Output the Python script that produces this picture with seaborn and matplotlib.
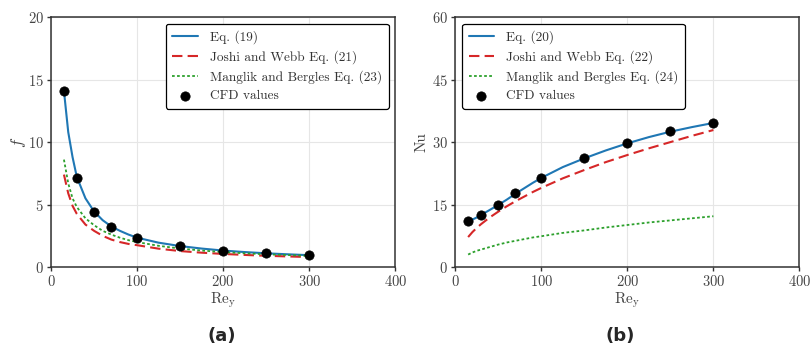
import matplotlib
matplotlib.use("Agg")
import matplotlib.pyplot as plt
import seaborn as sns
import pandas as pd

# Reynolds numbers of the correlation curves and the CFD runs
re_curve = [15, 20, 25, 30, 40, 50, 60, 70, 80, 90, 100, 125, 150, 175, 200, 225, 250, 275, 300]
re_cfd = [15, 30, 50, 70, 100, 150, 200, 250, 300]

# Friction factor
f_eq19 = [14.1, 10.8, 8.8, 7.2, 5.5, 4.45, 3.75, 3.25, 2.9, 2.6, 2.35, 1.95, 1.68, 1.48, 1.32, 1.2, 1.1, 1.02, 0.95]
f_joshi = [7.4, 5.9, 4.9, 4.25, 3.4, 2.9, 2.5, 2.2, 2.0, 1.85, 1.75, 1.47, 1.28, 1.15, 1.05, 0.97, 0.9, 0.85, 0.8]
f_manglik = [8.6, 6.7, 5.5, 4.8, 3.9, 3.35, 2.9, 2.6, 2.35, 2.15, 2.0, 1.7, 1.48, 1.32, 1.2, 1.1, 1.02, 0.96, 0.9]
f_cfd = [14.1, 7.15, 4.4, 3.2, 2.35, 1.65, 1.3, 1.1, 0.95]

# Nusselt number
nu_eq20 = [11.0, 11.4, 11.9, 12.5, 13.7, 14.9, 16.2, 17.6, 18.9, 20.2, 21.4, 24.0, 26.1, 28.0, 29.7, 31.2, 32.5, 33.6, 34.6]
nu_joshi = [7.2, 8.4, 9.4, 10.3, 11.9, 13.3, 14.6, 15.8, 16.9, 18.0, 19.0, 21.3, 23.3, 25.2, 26.9, 28.5, 30.0, 31.5, 32.9]
nu_manglik = [3.0, 3.5, 3.9, 4.2, 4.8, 5.4, 5.9, 6.3, 6.7, 7.1, 7.4, 8.2, 8.8, 9.5, 10.1, 10.7, 11.2, 11.7, 12.2]
nu_cfd = [11.0, 12.5, 15.0, 17.8, 21.5, 26.1, 29.8, 32.6, 34.6]

sns.set_theme(style="whitegrid")
plt.rcParams.update({
    "font.family": "serif",
    "font.serif": ["cmr10"],
    "mathtext.fontset": "cm",
    "axes.formatter.use_mathtext": True,
    "axes.unicode_minus": False,
    "axes.edgecolor": "#333333",
    "axes.linewidth": 1.1,
    "grid.color": "#e6e6e6",
    "grid.linewidth": 0.8,
    "xtick.bottom": True,
    "ytick.left": True,
    "xtick.direction": "out",
    "ytick.direction": "out",
    "xtick.major.size": 3,
    "ytick.major.size": 3,
    "xtick.major.width": 1.0,
    "ytick.major.width": 1.0,
    "xtick.color": "#333333",
    "ytick.color": "#333333",
    "xtick.labelcolor": "#444444",
    "ytick.labelcolor": "#444444",
    "axes.labelcolor": "#444444",
})

fig = plt.figure(figsize=(8.1, 3.5), dpi=100)
ax_f = fig.add_axes([0.063, 0.237, 0.425, 0.714])
ax_nu = fig.add_axes([0.562, 0.237, 0.425, 0.714])

BLUE, RED, GREEN = "#1f77b4", "#d62728", "#2ca02c"


def draw_panel(ax, eq, joshi, manglik, cfd, labels):
    df = pd.DataFrame({"Re": re_curve, "eq": eq, "joshi": joshi, "manglik": manglik})
    sns.lineplot(data=df, x="Re", y="eq", ax=ax, color=BLUE, lw=1.5, label=labels[0])
    sns.lineplot(data=df, x="Re", y="joshi", ax=ax, color=RED, lw=1.5,
                 label=labels[1]).lines[-1].set_dashes((5, 2.5))
    sns.lineplot(data=df, x="Re", y="manglik", ax=ax, color=GREEN, lw=1.3,
                 label=labels[2]).lines[-1].set_dashes((1.5, 1.3))
    sns.scatterplot(x=re_cfd, y=cfd, ax=ax, color="black", s=45, edgecolor="black",
                    linewidth=0.5, zorder=5, label="CFD values")
    ax.set_xlim(0, 400)
    ax.set_xticks([0, 100, 200, 300, 400])
    ax.set_xlabel(r"$\mathrm{Re_y}$", fontsize=11, labelpad=1)
    ax.tick_params(labelsize=10.5, pad=2)
    for s in ax.spines.values():
        s.set_visible(True)


draw_panel(ax_f, f_eq19, f_joshi, f_manglik, f_cfd,
           ["Eq. (19)", "Joshi and Webb Eq. (21)", "Manglik and Bergles Eq. (23)"])
ax_f.set_ylim(0, 20)
ax_f.set_yticks([0, 5, 10, 15, 20])
ax_f.set_ylabel(r"$f$", fontsize=12)
ax_f.yaxis.set_label_coords(-0.066, 0.5)

draw_panel(ax_nu, nu_eq20, nu_joshi, nu_manglik, nu_cfd,
           ["Eq. (20)", "Joshi and Webb Eq. (22)", "Manglik and Bergles Eq. (24)"])
ax_nu.set_ylim(0, 60)
ax_nu.set_yticks([0, 15, 30, 45, 60])
ax_nu.set_ylabel("Nu", fontsize=11)
ax_nu.yaxis.set_label_coords(-0.078, 0.5)

for ax, loc in ((ax_f, "upper right"), (ax_nu, "upper left")):
    leg = ax.legend(loc=loc, fontsize=9.6, frameon=True, fancybox=True,
                    framealpha=1.0, borderpad=0.5, handlelength=1.9,
                    handletextpad=0.9, labelspacing=0.45, borderaxespad=0.5)
    leg.get_frame().set_edgecolor("black")
    leg.get_frame().set_linewidth(0.9)
    for t in leg.get_texts():
        t.set_color("#333333")

fig.text(0.274, 0.04, "(a)", ha="center", va="center", fontsize=13,
         fontweight="bold", family="DejaVu Sans")
fig.text(0.766, 0.04, "(b)", ha="center", va="center", fontsize=13,
         fontweight="bold", family="DejaVu Sans")

fig.savefig("out.png", dpi=100)
